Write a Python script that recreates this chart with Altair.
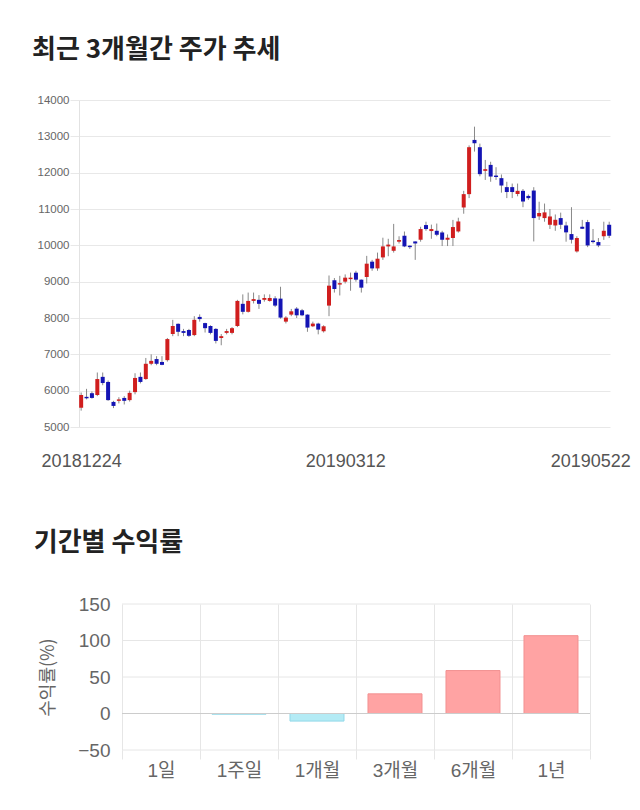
import altair as alt
import pandas as pd

# ---- candlestick data (daily OHLC) ----
opens = [5530, 5830, 5930, 5880, 6380, 6240, 5690, 5720, 5800, 5740,
         5960, 6380, 6320, 6740, 6870, 6790, 6840, 7560, 7840, 7640,
         7670, 7530, 8030, 7860, 7780, 7700, 7450, 7590, 7590, 7780,
         8390, 8170, 8470, 8500, 8500, 8470, 8541, 8533, 7900, 8093,
         8258, 8212, 8093, 7772, 7846, 7635, 8341, 9036, 8920, 9000,
         9070, 9247, 9055, 9129, 9550, 9365, 9668, 9970, 9850, 10100,
         10264, 9990, 10107, 10154, 10558, 10393, 10400, 10354, 10154, 10201,
         10382, 11042, 11409, 12901, 12701, 12050, 12214, 11920, 11849, 11602,
         11602, 11412, 11500, 11360, 11508, 10797, 10750, 10566, 10547, 10750,
         10547, 10310, 9832, 10511, 10640, 10130, 10090, 10250, 10566]
highs = [5950, 6050, 5980, 6500, 6500, 6280, 5720, 5820, 5850, 6000,
         6480, 6500, 6900, 7000, 6950, 6950, 7450, 7950, 7850, 7700,
         7700, 8050, 8100, 7870, 7800, 7720, 7560, 7700, 7750, 8500,
         8650, 8700, 8700, 8630, 8650, 8650, 8600, 8860, 8050, 8250,
         8300, 8250, 8100, 7900, 7870, 7800, 9170, 9100, 9160, 9200,
         9250, 9300, 9060, 9710, 9600, 9800, 10210, 10180, 10590, 10250,
         10380, 10000, 10110, 10510, 10650, 10570, 10600, 10400, 10300, 10700,
         10760, 11500, 12750, 13266, 12800, 12350, 12300, 12150, 11950, 11750,
         11700, 11700, 11550, 11400, 11600, 11200, 11150, 11000, 10850, 10900,
         10650, 11050, 10250, 10700, 10700, 10450, 10200, 10650, 10650]
lows = [5450, 5760, 5780, 5850, 6150, 5720, 5520, 5650, 5620, 5700,
        5900, 6200, 6300, 6700, 6700, 6700, 6800, 7500, 7500, 7500,
        7480, 7500, 7900, 7600, 7550, 7300, 7250, 7550, 7550, 7750,
        8100, 8150, 8400, 8250, 8450, 8450, 8300, 7980, 7850, 8050,
        8000, 8050, 7620, 7750, 7550, 7600, 8050, 8700, 8620, 8950,
        8750, 9000, 8700, 8950, 9300, 9300, 9600, 9700, 9800, 10050,
        9950, 9900, 9600, 10100, 10400, 10180, 10250, 9980, 9980, 9980,
        10350, 10870, 11300, 12580, 11900, 11800, 11750, 11800, 11450, 11300,
        11300, 11350, 11050, 11250, 10107, 10700, 10650, 10450, 10400, 10450,
        10100, 10050, 9800, 10450, 9950, 10050, 9950, 10150, 10200]
closes = [5880, 5790, 5800, 6320, 6210, 5740, 5580, 5760, 5720, 5940,
          6350, 6240, 6740, 6820, 6740, 6710, 7420, 7780, 7620, 7590,
          7510, 7950, 7970, 7720, 7590, 7370, 7500, 7640, 7720, 8470,
          8170, 8470, 8520, 8390, 8550, 8550, 8341, 8011, 8011, 8184,
          8074, 8074, 7736, 7846, 7681, 7772, 8890, 8799, 8960, 9110,
          9110, 9055, 8835, 9495, 9365, 9632, 9970, 10020, 9970, 10146,
          9970, 9950, 10052, 10448, 10448, 10448, 10291, 10154, 10209, 10503,
          10657, 11409, 12701, 12810, 11959, 12096, 11893, 11880, 11646, 11467,
          11467, 11500, 11206, 11299, 10750, 10890, 10907, 10794, 10703, 10566,
          10357, 10154, 10201, 10456, 9997, 10090, 9997, 10401, 10264]

tick_idx = [0, 49, 98]
tick_labels = ["20181224", "20190312", "20190522"]
price_ticks = [5000, 6000, 7000, 8000, 9000, 10000, 11000, 12000, 13000, 14000]

# ---- period returns ----
periods = ["1일", "1주일", "1개월", "3개월", "6개월", "1년"]
returns = [0.0, -1.0, -10.4, 26.9, 58.8, 106.6]
ret_ticks = [-50, 0, 50, 100, 150]

LAT = "'Liberation Sans', 'Noto Sans CJK KR', sans-serif"
KR = "'Noto Sans CJK KR', sans-serif"
GRID = "#e6e6e6"

cdf = pd.DataFrame({"i": list(range(len(opens))), "open": opens, "high": highs,
                    "low": lows, "close": closes})
cdf["dir"] = ["up" if c >= o else "down" for o, c in zip(opens, closes)]

label_expr = "''"
for v, t in zip(reversed(tick_idx), reversed(tick_labels)):
    label_expr = f"datum.value == {v} ? '{t}' : ({label_expr})"

xscale = alt.Scale(domain=[-0.4, 98.15], nice=False, zero=False, padding=0)
yscale = alt.Scale(domain=[5000, 14000], nice=False, zero=False)

xaxis_top = alt.Axis(values=tick_idx, labelExpr=label_expr, grid=False, ticks=False,
                     domain=False, labelFont=LAT, labelFontSize=18, labelColor="#555",
                     labelPadding=25, labelOverlap=False, labelFlush=False,
                     labelOffset={"condition": {"test": "datum.value == 98", "value": -19},
                                  "value": 0})
yaxis_top = alt.Axis(values=price_ticks, format="d", labelOverlap=False, labelFont=LAT,
                     labelFontSize=11.5, labelColor="#666", gridColor="#e8e8e8",
                     tickColor="#e8e8e8", tickSize=9, labelPadding=1,
                     domainColor="#e2e2e2")

base = alt.Chart(cdf).encode(x=alt.X("i:Q", scale=xscale, title=None, axis=xaxis_top))
wick = base.mark_rule(color="#888", strokeWidth=1).encode(
    y=alt.Y("low:Q", scale=yscale, title=None, axis=yaxis_top),
    y2="high:Q",
)
body = base.mark_bar(size=4).encode(
    y=alt.Y("open:Q", scale=yscale, title=None, axis=yaxis_top),
    y2="close:Q",
    color=alt.Color("dir:N", scale=alt.Scale(domain=["up", "down"], range=["#d01e1e", "#1414b4"]),
                    legend=None),
)
top = alt.layer(wick, body).properties(
    width=531, height=327,
    title=alt.TitleParams("최근 3개월간 주가 추세", anchor="start", frame="bounds", dx=-5,
                          offset=31, fontSize=26, font=KR, fontWeight="bold", color="#222"),
)

bdf = pd.DataFrame({"period": periods, "ret": returns})
bdf["sign"] = ["pos" if r > 0 else ("neg" if r < 0 else "zero") for r in returns]

yret = alt.Scale(domain=[-50, 150], nice=False)
yaxis_bot = alt.Axis(values=ret_ticks, format="d", labelOverlap=False, offset=-43,
                     grid=False, domain=False, ticks=False,
                     title="수익률(%)", titleFont=KR, titleFontSize=18,
                     titleColor="#666", titleFontWeight="normal", titlePadding=20,
                     labelFont=LAT, labelFontSize=19, labelColor="#666", labelPadding=12)
xaxis_bot = alt.Axis(labelAngle=0, labelFont=LAT, labelFontSize=19, labelColor="#666",
                     tickBand="extent", grid=True, gridColor=GRID,
                     tickColor=GRID, tickSize=9, domain=False, labelPadding=2)
xband = alt.Scale(paddingInner=0, paddingOuter=0.2756, align=1)

grid_df = pd.DataFrame({"v": ret_ticks})
ygrid = alt.Chart(grid_df).mark_rule(color=GRID).encode(
    x=alt.value(43), x2=alt.value(511),
    y=alt.Y("v:Q", scale=yret, title="수익률(%)", axis=yaxis_bot),
)

bars = alt.Chart(bdf).mark_bar(strokeWidth=1, size=54).encode(
    x=alt.X("period:N", sort=periods, title=None, scale=xband, axis=xaxis_bot),
    y=alt.Y("ret:Q", scale=yret, title="수익률(%)", axis=yaxis_bot),
    fill=alt.Fill("sign:N", scale=alt.Scale(domain=["pos", "neg", "zero"],
                                            range=["#ffa3a3", "#b4ebf5", "#ffffff"]),
                  legend=None),
    stroke=alt.Stroke("sign:N", scale=alt.Scale(domain=["pos", "neg", "zero"],
                                                range=["#f29090", "#92d8e8", "rgba(0,0,0,0)"]),
                      legend=None),
)
zero = alt.Chart(pd.DataFrame({"y": [0]})).mark_rule(color="#cccccc").encode(
    x=alt.value(43), x2=alt.value(511),
    y=alt.Y("y:Q", scale=yret, title="수익률(%)", axis=yaxis_bot),
)

bottom = alt.layer(ygrid, bars, zero).properties(
    width=511, height=146,
    title=alt.TitleParams("기간별 수익률", anchor="start", frame="bounds", dx=-6,
                          offset=39, fontSize=26, font=KR, fontWeight="bold", color="#222"),
)

chart = alt.concat(top, bottom, columns=1, spacing=60, align="none").properties(
    padding={"left": 24, "top": 29, "right": 0, "bottom": 0}
).configure_view(stroke=None)

chart.save("out.html", embed_options={"renderer": "svg", "actions": False})
